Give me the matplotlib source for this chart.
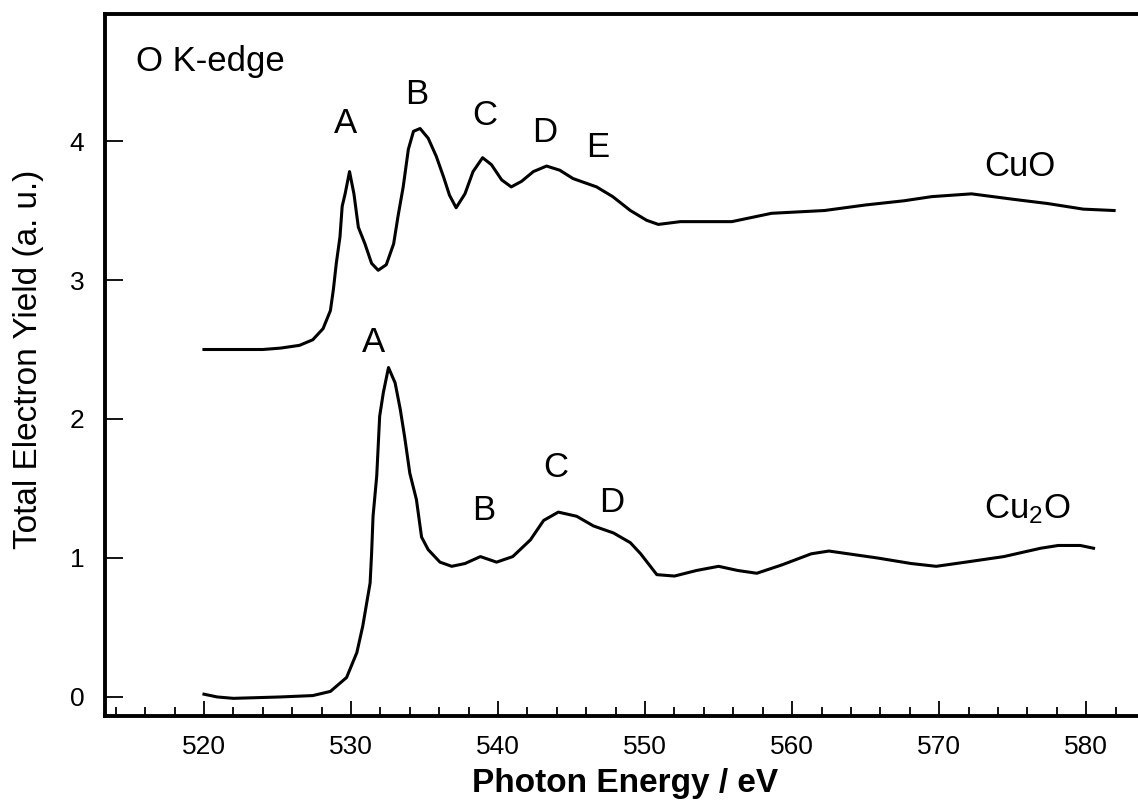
import matplotlib
matplotlib.use('Agg')
from matplotlib import pyplot as plt
from matplotlib.ticker import MultipleLocator

# O K-edge total electron yield spectra (CuO shifted up by 2.5)
cuo_energy = [520.0, 522.0, 524.0, 525.2, 526.5, 527.4, 528.1, 528.6, 528.8, 529.0,
              529.25, 529.4, 529.6, 529.9, 530.2, 530.5, 530.95, 531.4, 531.85, 532.4,
              532.9, 533.2, 533.55, 533.9, 534.25, 534.7, 535.25, 535.8, 536.3, 536.7,
              537.15, 537.75, 538.3, 538.95, 539.55, 540.25, 540.9, 541.6, 542.4, 543.3,
              544.2, 545.1, 546.7, 547.8, 549.0, 550.1, 550.9, 552.4, 553.3, 555.9,
              558.6, 562.2, 565.0, 567.6, 569.5, 572.2, 575.1, 577.4, 579.8, 581.9]
cuo_yield = [2.50, 2.50, 2.50, 2.51, 2.53, 2.57, 2.65, 2.78, 2.93, 3.12,
             3.31, 3.53, 3.62, 3.78, 3.62, 3.38, 3.26, 3.12, 3.07, 3.11,
             3.26, 3.46, 3.67, 3.94, 4.07, 4.09, 4.02, 3.89, 3.74, 3.61,
             3.52, 3.62, 3.78, 3.88, 3.83, 3.72, 3.67, 3.71, 3.78, 3.82,
             3.79, 3.73, 3.67, 3.60, 3.50, 3.43, 3.40, 3.42, 3.42, 3.42,
             3.48, 3.50, 3.54, 3.57, 3.60, 3.62, 3.58, 3.55, 3.51, 3.50]

cu2o_energy = [520.0, 520.9, 522.0, 525.2, 527.4, 528.6, 529.7, 530.4, 530.8, 531.3,
               531.4, 531.5, 531.75, 531.95, 532.2, 532.55, 533.0, 533.35, 533.65, 534.0,
               534.45, 534.8, 535.25, 536.05, 536.85, 537.75, 538.8, 539.9, 541.0, 542.2,
               543.1, 544.1, 545.35, 546.5, 547.85, 549.0, 549.7, 550.8, 552.0, 553.5,
               555.0, 556.3, 557.6, 559.3, 561.3, 562.5, 565.8, 568.1, 569.8, 571.8,
               574.4, 576.9, 578.1, 579.6, 580.5]
cu2o_yield = [0.02, 0.00, -0.01, 0.00, 0.01, 0.04, 0.14, 0.32, 0.51, 0.82,
              1.03, 1.30, 1.59, 2.02, 2.19, 2.37, 2.26, 2.07, 1.87, 1.61,
              1.42, 1.15, 1.06, 0.97, 0.94, 0.96, 1.01, 0.97, 1.01, 1.13,
              1.27, 1.33, 1.30, 1.23, 1.18, 1.11, 1.03, 0.88, 0.87, 0.91,
              0.94, 0.91, 0.89, 0.95, 1.03, 1.05, 1.00, 0.96, 0.94, 0.97,
              1.01, 1.07, 1.09, 1.09, 1.07]

# peak labels: (text, energy, baseline height)
cuo_peaks = [('A', 529.6, 4.058), ('B', 534.46, 4.266), ('C', 539.1, 4.115),
             ('D', 543.2, 3.993), ('E', 546.8, 3.885)]
cu2o_peaks = [('A', 531.5, 2.482), ('B', 539.0, 1.273), ('C', 543.9, 1.583),
              ('D', 547.7, 1.331)]

plt.rcParams['font.family'] = ['Liberation Sans', 'DejaVu Sans']
plt.rcParams['mathtext.default'] = 'regular'

fig = plt.figure(figsize=(11.38, 8.11), dpi=100)
ax = fig.add_axes([105 / 1138, 95 / 811, 1040 / 1138, 702 / 811])

ax.plot(cuo_energy, cuo_yield, color='black', linewidth=2.2)
ax.plot(cu2o_energy, cu2o_yield, color='black', linewidth=2.2)

for label, x, y in cuo_peaks + cu2o_peaks:
    ax.text(x, y, label, fontsize=25, ha='center', va='baseline')

ax.text(575.5, 3.748, 'CuO', fontsize=25, ha='center', va='baseline')
ax.text(576.0, 1.288, 'Cu$_2$O', fontsize=25, ha='center', va='baseline')
ax.text(515.4, 4.504, 'O K-edge', fontsize=25, ha='left', va='baseline')

ax.set_xlim(513.27, 584.0)
ax.set_ylim(-0.137, 4.914)

ax.xaxis.set_major_locator(MultipleLocator(10))
ax.xaxis.set_minor_locator(MultipleLocator(2))
ax.yaxis.set_major_locator(MultipleLocator(1))

ax.tick_params(axis='x', which='major', direction='in', length=11, width=1.3,
               labelsize=19, pad=14, top=False)
ax.tick_params(axis='x', which='minor', direction='in', length=6.5, width=1.3, top=False)
ax.tick_params(axis='y', which='major', direction='in', length=13, width=1.3,
               labelsize=19, pad=15, right=False)

for side in ['left', 'bottom', 'top']:
    ax.spines[side].set_linewidth(2.8)
ax.spines['right'].set_visible(False)

ax.set_xlabel('Photon Energy / eV', fontsize=24, fontweight='bold', va='top')
ax.xaxis.set_label_coords((625 - 105) / 1040, -(768 - 716) / 702)
ax.set_ylabel('Total Electron Yield (a. u.)', fontsize=24, va='center')
ax.yaxis.set_label_coords(-(105 - 29) / 1040, (716 - 359) / 702)

fig.savefig('out.png', dpi=100)
